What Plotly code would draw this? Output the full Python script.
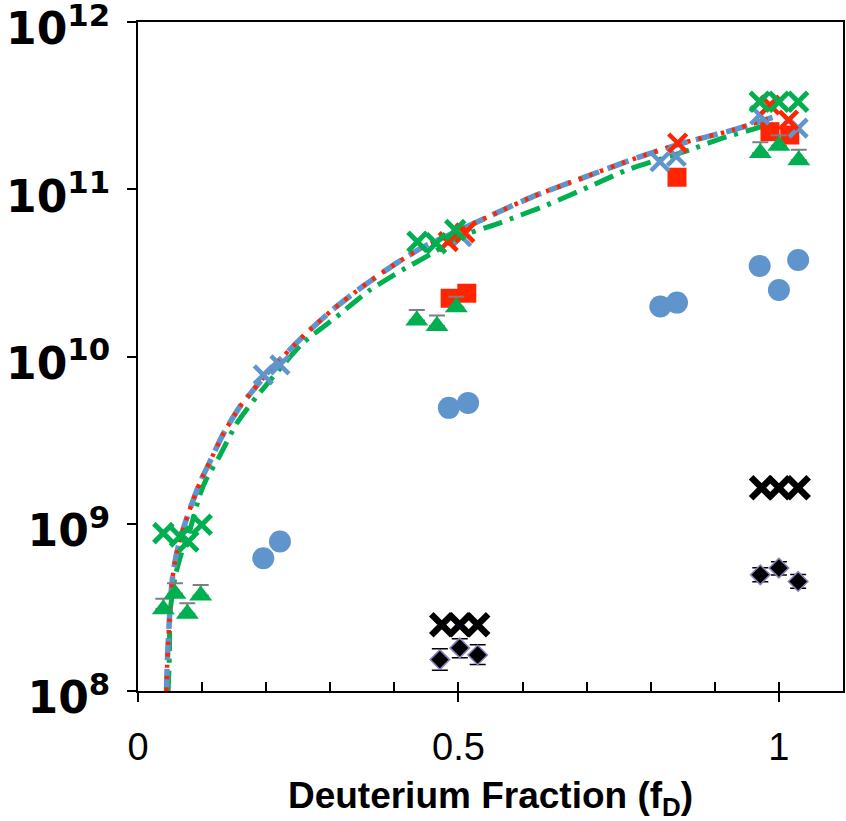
import plotly.graph_objects as go

# ---- model curves: deuterium fraction vs. rate ----
fit_fd = [0.0445, 0.0455, 0.047, 0.049, 0.051, 0.054, 0.059, 0.066, 0.075, 0.085,
          0.097, 0.112, 0.132, 0.159, 0.18, 0.206, 0.237, 0.263, 0.304, 0.351,
          0.404, 0.445, 0.487, 0.549, 0.616, 0.694, 0.778, 0.850, 0.928, 0.99]
fit_rate = [1.00e8, 1.41e8, 1.91e8, 2.69e8, 3.63e8, 4.79e8, 6.31e8, 8.13e8, 1.05e9, 1.35e9,
            1.78e9, 2.34e9, 3.39e9, 5.01e9, 6.31e9, 8.32e9, 1.10e10, 1.38e10, 1.91e10, 2.63e10,
            3.63e10, 4.52e10, 5.37e10, 6.92e10, 9.04e10, 1.17e11, 1.54e11, 1.89e11, 2.26e11, 2.69e11]

fit2_fd = [0.047, 0.049, 0.050, 0.058, 0.068, 0.081, 0.097, 0.107, 0.128, 0.154,
           0.185, 0.257, 0.310, 0.362, 0.413, 0.460, 0.497, 0.565, 0.638, 0.710,
           0.762, 0.861, 0.913, 0.965, 0.99]
fit2_rate = [1.00e8, 1.62e8, 2.95e8, 4.84e8, 6.70e8, 9.18e8, 1.51e9, 1.86e9, 2.57e9, 3.98e9,
             5.75e9, 1.20e10, 1.73e10, 2.50e10, 3.30e10, 4.16e10, 5.12e10, 6.30e10, 8.05e10, 1.06e11,
             1.30e11, 1.72e11, 2.03e11, 2.32e11, 2.51e11]

# ---- measured points ----
circle_fd = [0.1955, 0.2215, 0.485, 0.515, 0.815, 0.841, 0.970, 1.000, 1.030]
circle_rate = [6.22e8, 7.83e8, 4.93e9, 5.28e9, 1.99e10, 2.10e10, 3.48e10, 2.50e10, 3.78e10]

bx_fd = [0.474, 0.502, 0.530, 0.973, 1.000, 1.030]
bx_rate = [2.49e8, 2.49e8, 2.49e8, 1.64e9, 1.64e9, 1.64e9]

dia_fd = [0.471, 0.502, 0.530, 0.971, 1.000, 1.030]
dia_rate = [1.54e8, 1.81e8, 1.64e8, 4.95e8, 5.43e8, 4.52e8]
dia_err_up = [0.25e8, 0.24e8, 0.25e8, 0.50e8, 0.50e8, 0.45e8]
dia_err_dn = [0.21e8, 0.23e8, 0.20e8, 0.45e8, 0.50e8, 0.40e8]

sq_fd = [0.487, 0.513, 0.841, 0.986, 1.017]
sq_rate = [2.23e10, 2.39e10, 1.18e11, 2.21e11, 2.11e11]

tri_fd = [0.0395, 0.0577, 0.077, 0.0978, 0.435, 0.4665, 0.4967, 0.971, 1.000, 1.031]
tri_rate = [3.08e8, 3.81e8, 2.90e8, 3.72e8, 1.64e10, 1.52e10, 1.97e10, 1.65e11, 1.82e11, 1.49e11]
tri_err = [0.48e8, 0.59e8, 0.45e8, 0.58e8, 0.26e10, 0.24e10, 0.31e10, 0.26e11, 0.28e11, 0.23e11]

bluex_fd = [0.1955, 0.2215, 0.505, 0.8144, 0.840, 0.970, 1.030]
bluex_rate = [7.76e9, 8.91e9, 5.20e10, 1.46e11, 1.57e11, 2.78e11, 2.32e11]

redx_fd = [0.484, 0.510, 0.842, 0.986, 1.015]
redx_rate = [4.86e10, 5.48e10, 1.89e11, 3.19e11, 2.59e11]

greenx_fd = [0.0395, 0.0655, 0.0785, 0.0994, 0.436, 0.465, 0.495, 0.970, 1.000, 1.030]
greenx_rate = [8.79e8, 8.39e8, 7.83e8, 9.86e8, 4.86e10, 4.76e10, 5.71e10, 3.34e11, 3.34e11, 3.34e11]

y_tickvals = [1e8, 1e9, 1e10, 1e11, 1e12]
y_ticktext = ["10<sup>8</sup>", "10<sup>9</sup>", "10<sup>10</sup>", "10<sup>11</sup>", "10<sup>12</sup>"]
x_tickvals = [0, 0.5, 1]
x_ticktext = ["0", "0.5", "1"]
x_minor_vals = [0.1 * i for i in range(11)]

BLUE = "#6094cc"
GREEN = "#00b050"
RED = "#ff2500"
SANS = "Liberation Sans, Arial, sans-serif"

fig = go.Figure()


def add_curve(x, y, color, dash, width):
    fig.add_trace(go.Scatter(
        x=x, y=y, mode="lines", hoverinfo="skip", showlegend=False,
        line=dict(color=color, dash=dash, width=width, shape="spline", smoothing=0.6),
    ))


add_curve(fit2_fd, fit2_rate, GREEN, "20px,8px,4px,8px", 5)
add_curve(fit_fd, fit_rate, BLUE, "22px,9px", 5.5)
add_curve(fit_fd, fit_rate, RED, "3.5px,8px", 4.5)

# blue circles
fig.add_trace(go.Scatter(x=circle_fd, y=circle_rate, mode="markers", showlegend=False,
                         marker=dict(symbol="circle", size=22, color=BLUE)))
# black diamonds with error bars
fig.add_trace(go.Scatter(x=dia_fd, y=dia_rate, mode="markers", showlegend=False,
                         error_y=dict(type="data", array=dia_err_up, arrayminus=dia_err_dn,
                                      symmetric=False, color="black", thickness=1.5, width=8),
                         marker=dict(symbol="diamond", size=15, color="black",
                                     line=dict(color="#8c7fc0", width=1.5))))
# black crosses
fig.add_trace(go.Scatter(x=bx_fd, y=bx_rate, mode="markers", showlegend=False,
                         marker=dict(symbol="x-thin", size=21, color="black",
                                     line=dict(color="black", width=6.5))))
# red squares
fig.add_trace(go.Scatter(x=sq_fd, y=sq_rate, mode="markers", showlegend=False,
                         marker=dict(symbol="square", size=19, color=RED)))
# green triangles with upper error bars
fig.add_trace(go.Scatter(x=tri_fd, y=tri_rate, mode="markers", showlegend=False,
                         error_y=dict(type="data", array=tri_err, arrayminus=[0] * len(tri_err),
                                      symmetric=False, color="#7f7f7f", thickness=2, width=8),
                         marker=dict(symbol="triangle-up", size=20, color=GREEN)))
# crosses
fig.add_trace(go.Scatter(x=bluex_fd, y=bluex_rate, mode="markers", showlegend=False,
                         marker=dict(symbol="x-thin", size=18, color=BLUE,
                                     line=dict(color=BLUE, width=4.5))))
fig.add_trace(go.Scatter(x=redx_fd, y=redx_rate, mode="markers", showlegend=False,
                         marker=dict(symbol="x-thin", size=18, color=RED,
                                     line=dict(color=RED, width=4.5))))
fig.add_trace(go.Scatter(x=greenx_fd, y=greenx_rate, mode="markers", showlegend=False,
                         marker=dict(symbol="x-thin", size=19, color=GREEN,
                                     line=dict(color=GREEN, width=5))))

# helper trace so the inner tick axis is drawn
fig.add_trace(go.Scatter(x=[None], y=[None], xaxis="x2", yaxis="y", showlegend=False,
                         hoverinfo="skip"))

fig.update_layout(
    width=846, height=821,
    margin=dict(l=138, r=3, t=22, b=130),
    paper_bgcolor="white", plot_bgcolor="white",
    xaxis=dict(
        range=[0, 1.1], showgrid=False, zeroline=False, automargin=False,
        showline=True, linecolor="black", linewidth=2, mirror=True,
        ticks="outside", ticklen=9, tickwidth=2, tickcolor="black",
        tickvals=x_tickvals, ticktext=x_ticktext, ticklabelstandoff=12,
        tickfont=dict(family=SANS, size=38, color="black"),
        title=dict(text="Deuterium Fraction (f<sub>D</sub>)", standoff=16,
                   font=dict(family=SANS, size=37, color="black", weight="bold")),
    ),
    xaxis2=dict(
        range=[0, 1.1], overlaying="x", anchor="y", side="bottom", automargin=False,
        showgrid=False, zeroline=False, showline=False,
        ticks="inside", ticklen=9, tickwidth=2, tickcolor="black",
        tickvals=x_minor_vals, showticklabels=False,
    ),
    yaxis=dict(
        type="log", range=[7.9999, 12.0001], showgrid=False, zeroline=False,
        automargin=False,
        showline=True, linecolor="black", linewidth=2, mirror=True,
        ticks="outside", ticklen=9, tickwidth=2, tickcolor="black",
        tickvals=y_tickvals, ticktext=y_ticktext, ticklabelstandoff=8,
        ticklabeloverflow="allow", ticklabelshift=7,
        tickfont=dict(family="DejaVu Sans", size=44, color="black", weight="bold"),
    ),
)

fig.write_html("out.html")
